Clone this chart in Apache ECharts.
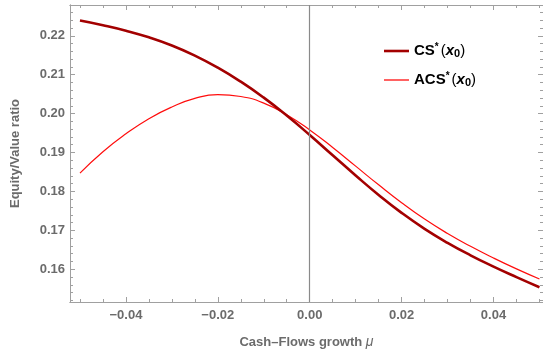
<!DOCTYPE html>
<html>
<head>
<meta charset="utf-8">
<script src="https://cdn.jsdelivr.net/npm/echarts@6/dist/echarts.min.js"></script>
<style>
  html, body { margin: 0; padding: 0; background: #fff; }
  #chart { width: 543px; height: 355px; }
</style>
</head>
<body>
<div id="chart"></div>
<script>
// growth rate samples
const mu = [-0.05, -0.045, -0.04, -0.035, -0.03, -0.025, -0.02, -0.015, -0.01, -0.005,
  0, 0.005, 0.01, 0.015, 0.02, 0.025, 0.03, 0.035, 0.04, 0.045, 0.05];
const csValues = [0.2239, 0.2227, 0.2213, 0.2196, 0.2175, 0.2149, 0.2118, 0.2082, 0.2041, 0.1995,
  0.1945, 0.1893, 0.1841, 0.1791, 0.1745, 0.1704, 0.1668, 0.1636, 0.1607, 0.1580, 0.1554];
const acsValues = [0.1847, 0.1902, 0.1948, 0.1987, 0.2017, 0.2039, 0.2049, 0.2044, 0.2027, 0.1997,
  0.1958, 0.1913, 0.1865, 0.1817, 0.1771, 0.1729, 0.1692, 0.1659, 0.1629, 0.1601, 0.1575];
const xMajor = [-0.04, -0.02, 0, 0.02, 0.04];
const xMinor = [-0.05, -0.045, -0.035, -0.03, -0.025, -0.015, -0.01, -0.005,
  0.005, 0.01, 0.015, 0.025, 0.03, 0.035, 0.045, 0.05];
const yMajor = [0.16, 0.17, 0.18, 0.19, 0.20, 0.21, 0.22];
const yMinor = [0.152, 0.154, 0.156, 0.158, 0.162, 0.164, 0.166, 0.168, 0.172, 0.174, 0.176, 0.178,
  0.182, 0.184, 0.186, 0.188, 0.192, 0.194, 0.196, 0.198, 0.202, 0.204, 0.206, 0.208,
  0.212, 0.214, 0.216, 0.218, 0.222, 0.224, 0.226];

const X_MIN = -0.05217, X_MAX = 0.05077;
const Y_MIN = 0.1516, Y_MAX = 0.2279;
const frame = '#a0a0a0';
const font = '"Liberation Sans", Arial, sans-serif';
const csColor = '#a30000';
const acsColor = '#ff0d0d';

const xAxisBase = (position, ticks, len, labels) => ({
  type: 'value',
  position: position,
  min: X_MIN,
  max: X_MAX,
  axisLine: { show: true, onZero: false, lineStyle: { color: frame, width: 1 } },
  axisTick: { show: true, inside: true, length: len, customValues: ticks, lineStyle: { color: frame } },
  axisLabel: labels ? {
    show: true, customValues: xMajor, margin: 7,
    color: '#6b6b6b', fontFamily: font, fontWeight: 'bold', fontSize: 13,
    formatter: (v) => (v < 0 ? '\u2212' : '') + Math.abs(v).toFixed(2)
  } : { show: false },
  splitLine: { show: false }
});

const yAxisBase = (position, ticks, len, labels) => ({
  type: 'value',
  position: position,
  min: Y_MIN,
  max: Y_MAX,
  axisLine: { show: true, onZero: false, lineStyle: { color: frame, width: 1 } },
  axisTick: { show: true, inside: true, length: len, customValues: ticks, lineStyle: { color: frame } },
  axisLabel: labels ? {
    show: true, customValues: yMajor, margin: 5,
    color: '#6b6b6b', fontFamily: font, fontWeight: 'bold', fontSize: 13,
    formatter: (v) => v.toFixed(2)
  } : { show: false },
  splitLine: { show: false }
});

const xBottom = xAxisBase('bottom', xMajor, 5, true);
xBottom.name = '{n|Cash\u2013Flows growth }{m|\u03bc}';
xBottom.nameLocation = 'middle';
xBottom.nameGap = 33;
xBottom.nameTextStyle = {
  rich: {
    n: { color: '#6b6b6b', fontFamily: font, fontWeight: 'bold', fontSize: 13 },
    m: { color: '#6b6b6b', fontFamily: font, fontStyle: 'italic', fontSize: 14 }
  }
};

const yLeft = yAxisBase('left', yMajor, 5, true);
yLeft.name = 'Equity/Value ratio';
yLeft.nameLocation = 'middle';
yLeft.nameGap = 48;
yLeft.nameTextStyle = { color: '#6b6b6b', fontFamily: font, fontWeight: 'bold', fontSize: 13 };

const legendRich = {
  b: { fontFamily: font, fontWeight: 'bold', fontSize: 15, color: '#000' },
  s: { fontFamily: font, fontWeight: 'bold', fontSize: 10, color: '#000', verticalAlign: 'top', padding: [0, 2, 8, 0] },
  p: { fontFamily: font, fontSize: 15, color: '#000' },
  i: { fontFamily: font, fontWeight: 'bold', fontStyle: 'italic', fontSize: 15, color: '#000' },
  d: { fontFamily: font, fontWeight: 'bold', fontSize: 11, color: '#000', padding: [6, 0, 0, 0] }
};

const legendFor = (name, top, height) => ({
  orient: 'vertical',
  left: 379,
  top: top,
  icon: 'rect',
  itemWidth: 25,
  itemHeight: height,
  data: [name],
  formatter: (n) => '{b|' + n + '}{s|*}{p|(}{i|x}{d|0}{p|)}',
  textStyle: { rich: legendRich }
});

const option = {
  animation: false,
  backgroundColor: '#fff',
  grid: { left: 70, top: 5, right: 0, bottom: 53, containLabel: false },
  legend: [legendFor('CS', 37, 2.6), legendFor('ACS', 66, 1.3)],
  xAxis: [
    xBottom,
    xAxisBase('bottom', xMinor, 3, false),
    xAxisBase('top', xMajor, 5, false),
    xAxisBase('top', xMinor, 3, false)
  ],
  yAxis: [
    yLeft,
    yAxisBase('left', yMinor, 3, false),
    yAxisBase('right', yMajor, 5, false),
    yAxisBase('right', yMinor, 3, false)
  ],
  series: [
    {
      name: 'ACS',
      type: 'line',
      smooth: 0.5,
      symbol: 'none',
      color: acsColor,
      lineStyle: { color: acsColor, width: 1.2 },
      data: mu.map((x, i) => [x, acsValues[i]]),
      markLine: {
        silent: true,
        symbol: 'none',
        label: { show: false },
        lineStyle: { color: '#8a8a8a', width: 1.2, type: 'solid' },
        data: [{ xAxis: 0 }]
      },
      z: 3
    },
    {
      name: 'CS',
      type: 'line',
      smooth: 0.5,
      symbol: 'none',
      color: csColor,
      lineStyle: { color: csColor, width: 2.6 },
      data: mu.map((x, i) => [x, csValues[i]]),
      z: 4
    }
  ]
};

const chart = echarts.init(document.getElementById('chart'));
chart.setOption(option);
</script>
</body>
</html>
